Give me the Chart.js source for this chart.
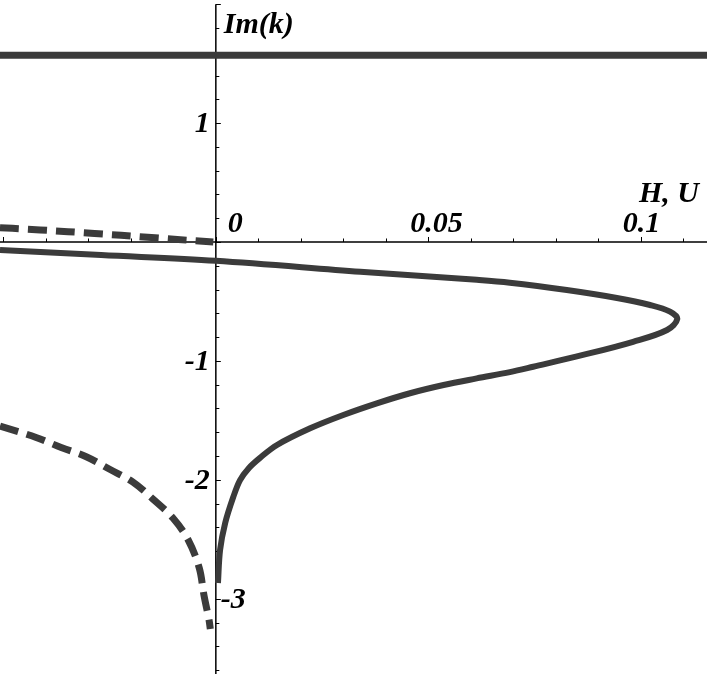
<!DOCTYPE html>
<html>
<head>
<meta charset="utf-8">
<script src="https://cdn.jsdelivr.net/npm/chart.js@4/dist/chart.umd.min.js"></script>
<style>
  html, body { margin: 0; padding: 0; background: #fff; }
  #wrap { width: 707px; height: 674px; }
</style>
</head>
<body>
<div id="wrap"><canvas id="chart" width="707" height="674"></canvas></div>
<script>
// solid branch (upper part left -> turning point -> lower part down to the cusp)
const solidH = [-0.0508, -0.0270, 0.0000, 0.0340, 0.0614, 0.0692, 0.0826, 0.0944, 0.1022, 0.1069, 0.1086,
  0.1062, 0.0982, 0.0864, 0.0747, 0.0692, 0.0614, 0.0536, 0.0457, 0.0379, 0.0300, 0.0222, 0.0144, 0.0104,
  0.0078, 0.0057, 0.0041, 0.0022, 0.0010, 0.0005];
const solidIm = [-0.067, -0.110, -0.158, -0.250, -0.318, -0.342, -0.404, -0.471, -0.530, -0.586, -0.648,
  -0.740, -0.839, -0.950, -1.049, -1.094, -1.147, -1.203, -1.272, -1.357, -1.455, -1.567, -1.707, -1.815,
  -1.900, -2.002, -2.145, -2.363, -2.590, -2.868];

// dashed branches
const dashTopH = [-0.0508, -0.0479, -0.0348, -0.0223, -0.0098, -0.0006];
const dashTopIm = [0.120, 0.115, 0.087, 0.056, 0.023, 0.000];
const dashLowH = [-0.0508, -0.0423, -0.0364, -0.0305, -0.0251, -0.0195, -0.0148, -0.0101, -0.0065, -0.0039, -0.0028, -0.0016, -0.0013];
const dashLowIm = [-1.548, -1.644, -1.728, -1.806, -1.909, -2.019, -2.162, -2.321, -2.506, -2.742, -2.969, -3.179, -3.255];

// constant branch
const flatH = [-0.06, 0.12];
const flatIm = [1.571, 1.571];

// axis labels
const xTickValues = [0, 0.05, 0.1];
const xTickLabels = ['0', '0.05', '0.1'];
const yTickValues = [1, -1, -2, -3];
const yTickLabels = ['1', '-1', '-2', '-3'];
const xAxisTitle = 'H, U';
const yAxisTitle = 'Im(k)';

const toPoints = (xs, ys) => xs.map((x, i) => ({ x: x, y: ys[i] }));

const curveColor = '#3b3b3b';
const labelFont = 'bold italic 30px "Liberation Serif", "DejaVu Serif", serif';

// axes through the origin, Mathematica style
const axesPlugin = {
  id: 'axesPlugin',
  beforeDatasetsDraw(chart) {
    const ctx = chart.ctx;
    const xs = chart.scales.x;
    const ys = chart.scales.y;
    const x0 = xs.getPixelForValue(0);
    const y0 = ys.getPixelForValue(0);
    ctx.save();
    ctx.strokeStyle = '#000';
    ctx.lineWidth = 1.5;
    ctx.beginPath();
    ctx.moveTo(0, y0);
    ctx.lineTo(chart.width, y0);
    ctx.moveTo(x0, ys.getPixelForValue(2.0));
    ctx.lineTo(x0, chart.height);
    ctx.stroke();

    ctx.lineWidth = 1;
    ctx.beginPath();
    for (let v = -5; v <= 11; v++) {
      const px = Math.round(xs.getPixelForValue(v / 100)) + 0.5;
      const len = v % 5 === 0 ? 5 : 3.5;
      ctx.moveTo(px, y0);
      ctx.lineTo(px, y0 - len);
    }
    for (let v = -18; v <= 10; v++) {
      const py = Math.round(ys.getPixelForValue(v / 5)) + 0.5;
      const len = v % 5 === 0 ? 5 : 3.5;
      ctx.moveTo(x0, py);
      ctx.lineTo(x0 + len, py);
    }
    ctx.stroke();

    ctx.fillStyle = '#000';
    ctx.font = labelFont;
    ctx.textBaseline = 'alphabetic';
    ctx.textAlign = 'left';
    xTickValues.forEach((v, i) => {
      const px = xs.getPixelForValue(v);
      ctx.fillText(xTickLabels[i], v === 0 ? px + 12 : px - 18, y0 - 10);
    });
    ctx.textBaseline = 'middle';
    yTickValues.forEach((v, i) => {
      const py = ys.getPixelForValue(v);
      if (v === -3) {
        ctx.textAlign = 'left';
        ctx.fillText(yTickLabels[i], x0 + 5, py + 2);
      } else {
        ctx.textAlign = 'right';
        ctx.fillText(yTickLabels[i], x0 - 6, py + 1);
      }
    });
    ctx.textBaseline = 'alphabetic';
    ctx.textAlign = 'left';
    ctx.fillText(yAxisTitle, x0 + 8, 33);
    ctx.textAlign = 'right';
    ctx.fillText(xAxisTitle, chart.width - 8, y0 - 40);
    ctx.restore();
  }
};

new Chart(document.getElementById('chart'), {
  type: 'scatter',
  data: {
    datasets: [
      {
        data: toPoints(flatH, flatIm),
        showLine: true,
        borderColor: curveColor,
        borderWidth: 7,
        pointRadius: 0
      },
      {
        data: toPoints(solidH, solidIm),
        showLine: true,
        borderColor: curveColor,
        borderWidth: 6,
        tension: 0.35,
        pointRadius: 0
      },
      {
        data: toPoints(dashTopH, dashTopIm),
        showLine: true,
        borderColor: curveColor,
        borderWidth: 7,
        borderDash: [19, 9],
        tension: 0.3,
        pointRadius: 0
      },
      {
        data: toPoints(dashLowH, dashLowIm),
        showLine: true,
        borderColor: curveColor,
        borderWidth: 7,
        borderDash: [19, 9],
        tension: 0.35,
        pointRadius: 0
      }
    ]
  },
  options: {
    responsive: false,
    animation: false,
    layout: { padding: 0 },
    scales: {
      x: { type: 'linear', display: false, min: -0.0508, max: 0.1156 },
      y: { type: 'linear', display: false, min: -3.633, max: 2.035 }
    },
    plugins: {
      legend: { display: false },
      tooltip: { enabled: false }
    }
  },
  plugins: [axesPlugin]
});
</script>
</body>
</html>
